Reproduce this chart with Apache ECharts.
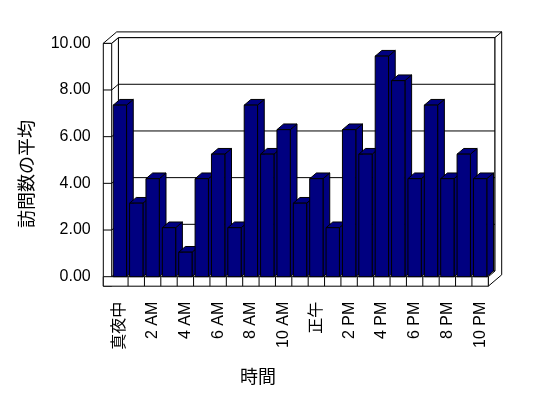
<!DOCTYPE html>
<html>
<head>
<meta charset="utf-8">
<script src="https://cdn.jsdelivr.net/npm/echarts@6/dist/echarts.min.js"></script>
<style>
html,body{margin:0;padding:0;background:#fff;}
#c{width:548px;height:398px;}
</style>
</head>
<body>
<div id="c"></div>
<script>
// ---- data ----
var categories = ["真夜中","1 AM","2 AM","3 AM","4 AM","5 AM","6 AM","7 AM","8 AM","9 AM","10 AM","11 AM",
                  "正午","1 PM","2 PM","3 PM","4 PM","5 PM","6 PM","7 PM","8 PM","9 PM","10 PM"];
var visits = [7.35,3.15,4.2,2.1,1.05,4.2,5.25,2.1,7.35,5.25,6.3,3.15,
              4.2,2.1,6.3,5.25,9.45,8.4,4.2,7.35,4.2,5.25,4.2];
var yTicks = [0,2,4,6,8,10];
var yName = "訪問数の平均";
var xName = "時間";

// ---- drawing constants ----
var DX = 6.7, DY = -5.7;      // depth offset of bars / back wall inner face
var WALL = 8.4;               // left wall thickness
var FLOOR = 9.5;              // floor slab thickness
var FONT = '"Liberation Sans", "Noto Sans CJK JP", sans-serif';
var NAVY = '#000080';

var chart = echarts.init(document.getElementById('c'), null, {renderer:'canvas'});

function frameItem(params, api){
  var band = api.size([1,0])[0];
  var c0 = api.coord([0,0]);
  var cN = api.coord([categories.length-1,0]);
  var L = c0[0]-band/2, R = cN[0]+band/2;
  var B = c0[1];
  var T = api.coord([0, yTicks[yTicks.length-1]])[1];
  var Lo = L - WALL;
  var st = {fill:'#fff', stroke:'#000', lineWidth:1};
  var ln = {stroke:'#000', lineWidth:1, fill:null};
  var ch = [];
  // back wall inner face
  ch.push({type:'polygon', shape:{points:[[L+DX,T+DY],[R+DX,T+DY],[R+DX,B+DY],[L+DX,B+DY]]}, style:st});
  // left wall (front strip + inner face)
  ch.push({type:'polygon', shape:{points:[[Lo,T],[L,T],[L+DX,T+DY],[L+DX,B+DY],[L,B],[L,B+FLOOR],[Lo,B+FLOOR]]}, style:st});
  ch.push({type:'line', shape:{x1:L,y1:T,x2:L,y2:B}, style:ln});
  // top of walls
  ch.push({type:'polygon', shape:{points:[[Lo,T],[L,T],[L+DX,T+DY],[R+DX,T+DY],[R+2*DX,T+2*DY],[Lo+2*DX,T+2*DY]]}, style:st});
  // right side of back wall + floor
  ch.push({type:'polygon', shape:{points:[[R+DX,T+DY],[R+2*DX,T+2*DY],[R+2*DX,B+FLOOR+2*DY],[R,B+FLOOR],[R,B],[R+DX,B+DY]]}, style:st});
  // gridlines
  for (var k=1;k<yTicks.length-1;k++){
    var y = api.coord([0,yTicks[k]])[1];
    ch.push({type:'polyline', shape:{points:[[Lo,y],[L,y],[L+DX,y+DY],[R+DX,y+DY]]}, style:ln});
  }
  // floor front face
  ch.push({type:'rect', shape:{x:Lo,y:B,width:R-Lo,height:FLOOR}, style:st});
  for (var i=1;i<categories.length;i++){
    var x = api.coord([i,0])[0]-band/2;
    ch.push({type:'line', shape:{x1:x,y1:B,x2:x,y2:B+FLOOR}, style:ln});
  }
  return {type:'group', children:ch};
}

function barItem(params, api){
  var i = api.value(0), v = api.value(1);
  var top = api.coord([i,v]);
  var base = api.coord([i,0]);
  var band = api.size([1,0])[0];
  var w = band*0.815;
  var x0 = top[0]-w/2, x1 = top[0]+w/2;
  var yt = top[1], yb = base[1];
  var st = {fill:NAVY, stroke:'#000', lineWidth:1};
  return {type:'group', children:[
    {type:'polygon', shape:{points:[[x1,yt],[x1+DX,yt+DY],[x1+DX,yb+DY],[x1,yb]]}, style:st},
    {type:'polygon', shape:{points:[[x0,yt],[x1,yt],[x1+DX,yt+DY],[x0+DX,yt+DY]]}, style:st},
    {type:'rect', shape:{x:x0,y:yt,width:w,height:yb-yt}, style:st}
  ]};
}

chart.setOption({
  animation:false,
  backgroundColor:'#fff',
  grid:{left:111.7, right:59.7, top:43.3, bottom:121.3, containLabel:false},
  xAxis:{
    type:'category', data:categories, boundaryGap:true,
    axisLine:{show:false}, axisTick:{show:false}, splitLine:{show:false},
    axisLabel:{interval:1, rotate:90, margin:25, color:'#000', fontSize:16, fontFamily:FONT}
  },
  yAxis:{
    type:'value', min:yTicks[0], max:yTicks[yTicks.length-1], interval:2,
    axisLine:{show:false}, axisTick:{show:false}, splitLine:{show:false},
    axisLabel:{margin:21, color:'#000', fontSize:16, fontFamily:FONT,
      formatter:function(v){return v.toFixed(2);}}
  },
  graphic:[
    {type:'text', x:28, y:174, rotation:Math.PI/2,
     style:{text:yName, fill:'#000', font:'18px '+FONT, textAlign:'center', textVerticalAlign:'middle'}},
    {type:'text', x:258, y:378, 
     style:{text:xName, fill:'#000', font:'18px '+FONT, textAlign:'center', textVerticalAlign:'middle'}}
  ],
  series:[
    {type:'custom', z:1, renderItem:frameItem, data:[[0,0]], silent:true},
    {type:'custom', z:2, renderItem:barItem, data:visits.map(function(v,i){return [i,v];}), silent:true}
  ]
});
</script>
</body>
</html>
